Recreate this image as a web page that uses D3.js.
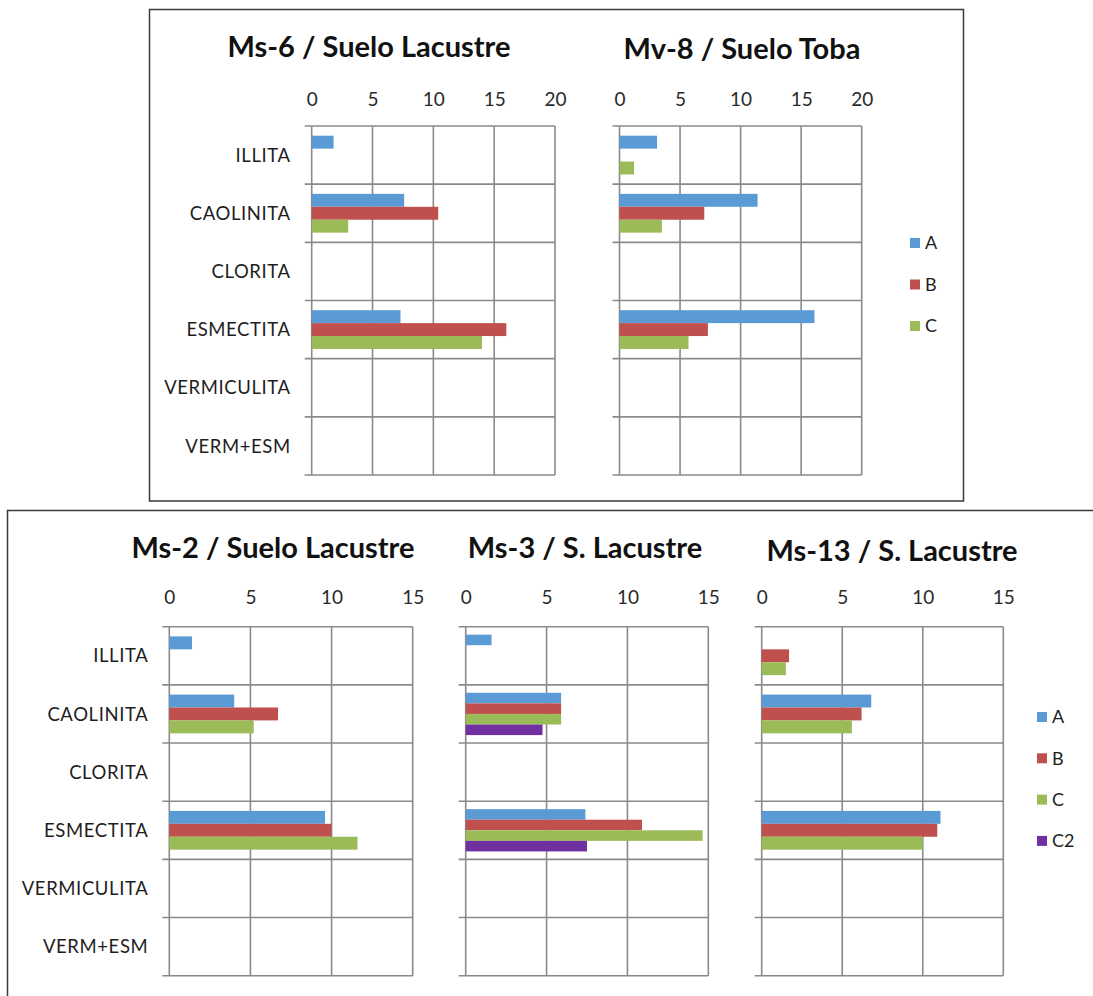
<!DOCTYPE html>
<html>
<head>
<meta charset="utf-8">
<script src="https://cdn.jsdelivr.net/npm/d3@7"></script>
<style>
  html, body { margin: 0; padding: 0; background: #ffffff; }
  svg { display: block; }
  text { font-family: Lato, "Open Sans", "DejaVu Sans", sans-serif; }
</style>
</head>
<body>
<svg id="chart" width="1093" height="996"></svg>
<script>
// ---------- DATA ----------
const categories = ["ILLITA", "CAOLINITA", "CLORITA", "ESMECTITA", "VERMICULITA", "VERM+ESM"];
const seriesNames = ["A", "B", "C", "C2"];
const seriesColors = ["#5B9BD5", "#C0504D", "#9BBB59", "#7030A0"];

const ticksTop = [0, 5, 10, 15, 20];
const ticksBottom = [0, 5, 10, 15];

const titles = ["Ms-6 / Suelo Lacustre", "Mv-8 / Suelo Toba", "Ms-2 / Suelo Lacustre", "Ms-3 / S. Lacustre", "Ms-13 / S. Lacustre"];

// Ms-6 / Suelo Lacustre
const ms6A = [1.8, 7.6, 0, 7.3, 0, 0];
const ms6B = [0, 10.4, 0, 16.0, 0, 0];
const ms6C = [0, 3.0, 0, 14.0, 0, 0];
// Mv-8 / Suelo Toba
const mv8A = [3.1, 11.4, 0, 16.1, 0, 0];
const mv8B = [0, 7.0, 0, 7.3, 0, 0];
const mv8C = [1.2, 3.5, 0, 5.7, 0, 0];
// Ms-2 / Suelo Lacustre
const ms2A = [1.4, 4.0, 0, 9.6, 0, 0];
const ms2B = [0, 6.7, 0, 10.0, 0, 0];
const ms2C = [0, 5.2, 0, 11.6, 0, 0];
// Ms-3 / S. Lacustre
const ms3A = [1.6, 5.9, 0, 7.4, 0, 0];
const ms3B = [0, 5.9, 0, 10.9, 0, 0];
const ms3C = [0, 5.9, 0, 14.65, 0, 0];
const ms3C2 = [0, 4.75, 0, 7.5, 0, 0];
// Ms-13 / S. Lacustre
const ms13A = [0, 6.8, 0, 11.1, 0, 0];
const ms13B = [1.7, 6.2, 0, 10.9, 0, 0];
const ms13C = [1.5, 5.6, 0, 10.0, 0, 0];

const legendTop = ["A", "B", "C"];
const legendBottom = ["A", "B", "C", "C2"];

// ---------- DRAWING ----------
const svg = d3.select("#chart");
const gridColor = "#8A8A8A";

// panel frames
svg.append("rect").attr("x", 149.5).attr("y", 9.5).attr("width", 814).attr("height", 491.5)
  .attr("fill", "none").attr("stroke", "#3a3a3a").attr("stroke-width", 1.5);
svg.append("rect").attr("x", 7.5).attr("y", 510.5).attr("width", 1100).attr("height", 500)
  .attr("fill", "none").attr("stroke", "#3a3a3a").attr("stroke-width", 1.5);

function drawChart(cfg) {
  const g = svg.append("g");
  const x = d3.scaleLinear().domain([0, cfg.max]).range([cfg.x0, cfg.x1]);
  const y = d3.scaleBand().domain(categories).range([cfg.y0, cfg.y1]).padding(0);
  const names = cfg.series.map(s => s.name);
  const ys = d3.scaleBand().domain(names).range([0, y.bandwidth()]).paddingInner(0).paddingOuter(0.75);

  // vertical grid lines
  g.selectAll("line.vg").data(cfg.ticks).join("line")
    .attr("x1", d => x(d)).attr("x2", d => x(d))
    .attr("y1", cfg.y0).attr("y2", cfg.y1)
    .attr("stroke", gridColor).attr("stroke-width", 1.6);

  // horizontal lines at category boundaries (with tick marks to the left)
  const bounds = categories.map(c => y(c)).concat([cfg.y1]);
  g.selectAll("line.hg").data(bounds).join("line")
    .attr("x1", cfg.x0 - 7).attr("x2", cfg.x1)
    .attr("y1", d => d).attr("y2", d => d)
    .attr("stroke", gridColor).attr("stroke-width", 1.6);

  // bars
  cfg.series.forEach(s => {
    g.selectAll(null).data(s.values.map((v, i) => ({ v, c: categories[i] })).filter(d => d.v > 0))
      .join("rect")
      .attr("x", x(0))
      .attr("y", d => y(d.c) + ys(s.name))
      .attr("width", d => x(d.v) - x(0))
      .attr("height", ys.bandwidth())
      .attr("fill", s.color);
  });

  // tick labels on top
  const axis = d3.axisTop(x).tickValues(cfg.ticks).tickSize(0).tickPadding(0).tickFormat(d3.format("d"));
  const ax = g.append("g").attr("transform", `translate(0,${cfg.tickY})`).call(axis);
  ax.select(".domain").remove();
  ax.selectAll("text").attr("font-family", "Lato, sans-serif").attr("font-size", 19)
    .attr("fill", "#2a2a2a").attr("dy", "0.35em").attr("y", 0);

  // category labels
  if (cfg.showLabels) {
    g.selectAll("text.cat").data(categories).join("text")
      .attr("x", cfg.x0 - 21)
      .attr("y", d => y(d) + y.bandwidth() / 2)
      .attr("dy", "0.36em")
      .attr("text-anchor", "end")
      .attr("font-size", 18.5)
      .attr("letter-spacing", "0.6px")
      .attr("fill", "#1e1e1e")
      .text(d => d);
  }

  // title
  svg.append("text").attr("x", cfg.titleX).attr("y", cfg.titleY)
    .attr("text-anchor", "middle").attr("font-weight", "bold").attr("font-size", 29)
    .attr("fill", "#111").text(cfg.title);
}

function mk(names, arrays) {
  return arrays.map((vals, i) => ({ name: names[i], values: vals, color: seriesColors[seriesNames.indexOf(names[i])] }));
}

drawChart({ title: titles[0], titleX: 369, titleY: 57, x0: 311.7, x1: 555, y0: 126, y1: 475, tickY: 99,
  max: 20, ticks: ticksTop, showLabels: true, series: mk(["A", "B", "C"], [ms6A, ms6B, ms6C]) });
drawChart({ title: titles[1], titleX: 742, titleY: 59, x0: 619.5, x1: 861.7, y0: 126, y1: 475, tickY: 99,
  max: 20, ticks: ticksTop, showLabels: false, series: mk(["A", "B", "C"], [mv8A, mv8B, mv8C]) });
drawChart({ title: titles[2], titleX: 273, titleY: 558, x0: 169.3, x1: 412.7, y0: 626.7, y1: 975.7, tickY: 597,
  max: 15, ticks: ticksBottom, showLabels: true, series: mk(["A", "B", "C"], [ms2A, ms2B, ms2C]) });
drawChart({ title: titles[3], titleX: 585, titleY: 558, x0: 465.7, x1: 708.3, y0: 626.7, y1: 975.7, tickY: 597,
  max: 15, ticks: ticksBottom, showLabels: false, series: mk(["A", "B", "C", "C2"], [ms3A, ms3B, ms3C, ms3C2]) });
drawChart({ title: titles[4], titleX: 892, titleY: 561, x0: 761.7, x1: 1003.3, y0: 626.7, y1: 975.7, tickY: 597,
  max: 15, ticks: ticksBottom, showLabels: false, series: mk(["A", "B", "C"], [ms13A, ms13B, ms13C]) });

// legends
function drawLegend(items, lx, ly, step) {
  const lg = svg.append("g");
  const yl = d3.scalePoint().domain(items).range([ly, ly + step * (items.length - 1)]);
  lg.selectAll("rect").data(items).join("rect")
    .attr("x", lx).attr("y", d => yl(d) - 5).attr("width", 10).attr("height", 10)
    .attr("fill", d => seriesColors[seriesNames.indexOf(d)]);
  lg.selectAll("text").data(items).join("text")
    .attr("x", lx + 15).attr("y", d => yl(d)).attr("dy", "0.36em")
    .attr("font-size", 18).attr("fill", "#1e1e1e").text(d => d);
}
drawLegend(legendTop, 910, 243, 41.5);
drawLegend(legendBottom, 1037, 717, 41.3);
</script>
</body>
</html>
